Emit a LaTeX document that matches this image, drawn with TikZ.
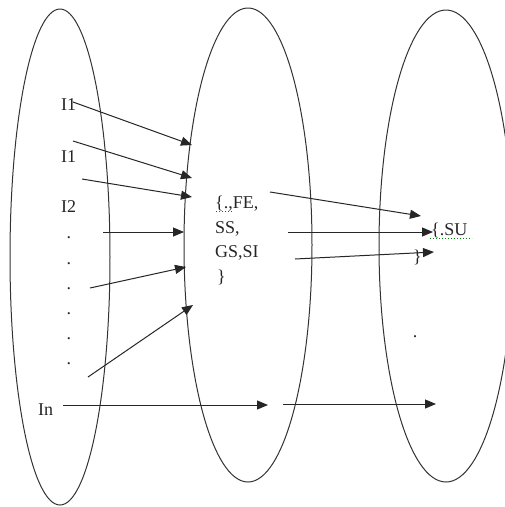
\documentclass[tikz,border=0pt]{standalone}
\usepackage{fontspec}
\setmainfont{Liberation Serif}
\usetikzlibrary{arrows.meta,shapes.geometric}
\tikzset{
  set/.style={draw=black!80, line width=1pt, ellipse, inner sep=0pt},
  lbl/.style={anchor=base west, inner sep=0pt, font=\fontsize{18}{24}\selectfont, text=black!85},
  arr/.style={draw=black!85, line width=1pt, -{Triangle[length=11pt,width=9pt]}},
  spell/.style={draw=green!50!black, dotted, line width=1pt},
  dotlbl/.style={anchor=base, inner sep=0pt, font=\fontsize{18}{24}\selectfont, text=black!85}
}
\begin{document}
\begin{tikzpicture}[x=1pt,y=-1pt]
\useasboundingbox (0,0) rectangle (505,507);
\fill[white] (0,0) rectangle (505,507);
% sets
\node[set, minimum width=100pt, minimum height=496pt] (L) at (60,257) {};
\node[set, minimum width=128pt, minimum height=474pt] (M) at (248,245) {};
\node[set, minimum width=134pt, minimum height=472pt] (R) at (446,246) {};
% left labels
\node[lbl] (i1a) at (61,110) {I1};
\node[lbl] (i1b) at (61,162) {I1};
\node[lbl] (i2) at (61,212) {I2};
\node[dotlbl] (d1) at (69,238) {.};
\node[dotlbl] (d2) at (69,264) {.};
\node[dotlbl] (d3) at (69,289) {.};
\node[dotlbl] (d4) at (69,314) {.};
\node[dotlbl] (d5) at (69,339) {.};
\node[dotlbl] (d6) at (69,364) {.};
\node[lbl] (in) at (38,415) {In};
% middle text
\node[lbl] (m1) at (215,208) {\{.,FE,};
\node[lbl] (m2) at (215,233) {SS,};
\node[lbl] (m3) at (215,257) {GS,SI};
\node[lbl] (m4) at (217,282) {\}};
\draw[spell] (216,211) -- (233,211);
% right text
\node[lbl] (su) at (431,235) {\{.SU};
\draw[spell] (430,238) -- (472,238);
\node[lbl] (rb) at (413,262) {\}};
\node[dotlbl] (rd) at (415,337) {.};
% arrow endpoints
\coordinate (a1s) at (73,102);  \coordinate (a1e) at (192,145);
\coordinate (a2s) at (73,141);  \coordinate (a2e) at (192,178);
\coordinate (a3s) at (82,179);  \coordinate (a3e) at (192,197);
\coordinate (a4s) at (103,232); \coordinate (a4e) at (184,232);
\coordinate (a5s) at (90,288);  \coordinate (a5e) at (186,267);
\coordinate (a6s) at (88,377);  \coordinate (a6e) at (193,305);
\coordinate (a7s) at (63,405);  \coordinate (a7e) at (268,405);
\coordinate (a8s) at (283,404); \coordinate (a8e) at (436,404);
\coordinate (a9s) at (270,192); \coordinate (a9e) at (421,216);
\coordinate (a10s) at (288,232); \coordinate (a10e) at (433,232);
\coordinate (a11s) at (295,259); \coordinate (a11e) at (434,252);
\draw[arr] (a1s) -- (a1e);
\draw[arr] (a2s) -- (a2e);
\draw[arr] (a3s) -- (a3e);
\draw[arr] (a4s) -- (a4e);
\draw[arr] (a5s) -- (a5e);
\draw[arr] (a6s) -- (a6e);
\draw[arr] (a7s) -- (a7e);
\draw[arr] (a8s) -- (a8e);
\draw[arr] (a9s) -- (a9e);
\draw[arr] (a10s) -- (a10e);
\draw[arr] (a11s) -- (a11e);
\end{tikzpicture}
\end{document}
